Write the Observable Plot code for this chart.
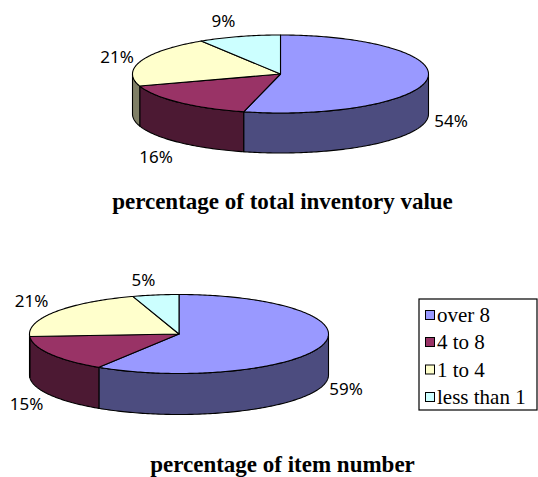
<!DOCTYPE html>
<html>
<head>
<meta charset="utf-8">
<style>html,body{margin:0;padding:0;background:#fff}svg{display:block}</style>
<script src="https://cdn.jsdelivr.net/npm/d3@7"></script>
<script src="https://cdn.jsdelivr.net/npm/@observablehq/plot@0.6"></script>
</head>
<body>
<script>
// Data
const categories = ["over 8", "4 to 8", "1 to 4", "less than 1"];
const inventoryValueShare = [54, 16, 21, 9];
const itemNumberShare = [59, 15, 21, 5];
const inventoryTitle = "percentage of total inventory value";
const itemTitle = "percentage of item number";

// Palette
const topColors = ["#9999ff", "#993366", "#ffffcc", "#ccffff"];
const sideColors = ["#4c4c7f", "#4c1933", "#7f7f66", "#667f7f"];

// Layout
const W = 538, H = 477;
const pies = [
  {id: "a", values: inventoryValueShare, cx: 280, cy: 73.5, rx: 148, ry: 39, depth: 40,
   labels: [[450.5, 121.5], [155.5, 157], [116.5, 57], [223, 21]], title: inventoryTitle, titleX: 282, titleY: 201},
  {id: "b", values: itemNumberShare, cx: 178.5, cy: 333.5, rx: 149.5, ry: 39.5, depth: 41,
   labels: [[345.5, 389.5], [26, 404.5], [31, 301.5], [143, 280]], title: itemTitle, titleX: 282, titleY: 464.5}
];
const legendBox = {x1: 419, x2: 537, y1: 299, y2: 410};
const legendRowY = [315, 342, 369.5, 397];

// Geometry built from the shares
const STEP = Math.PI / 180;
const tops = [], sides = [], labels = [], titles = [];
for (const p of pies) {
  const total = d3.sum(p.values);
  const pt = (t, dy = 0) => ({x: p.cx + p.rx * Math.sin(t), y: p.cy - p.ry * Math.cos(t) + dy});
  let acc = 0;
  p.values.forEach((v, i) => {
    const a0 = acc / total * 2 * Math.PI;
    acc += v;
    const a1 = acc / total * 2 * Math.PI;
    const id = `${p.id}${i}`;
    const key = categories[i];
    // top face
    const ring = [{x: p.cx, y: p.cy}];
    for (let t = a0; t < a1; t += STEP) ring.push(pt(t));
    ring.push(pt(a1), {x: p.cx, y: p.cy});
    ring.forEach(q => tops.push({...q, id, key}));
    // visible wall: front half of the rim only
    const s0 = Math.max(a0, Math.PI / 2), s1 = Math.min(a1, 3 * Math.PI / 2);
    if (s1 > s0) {
      const upper = [], lower = [];
      for (let t = s0; t < s1; t += STEP) { upper.push(pt(t)); lower.push(pt(t, p.depth)); }
      upper.push(pt(s1)); lower.push(pt(s1, p.depth));
      const wall = [...upper, ...lower.reverse(), upper[0]];
      wall.forEach(q => sides.push({...q, id: id + "s", key}));
    }
    labels.push({x: p.labels[i][0], y: p.labels[i][1], text: `${v}%`});
  });
  titles.push({x: p.titleX, y: p.titleY, text: p.title});
}
const legendRows = categories.map((c, i) => ({c, y: legendRowY[i]}));

const sideFill = d => sideColors[categories.indexOf(d.key)];

const chart = Plot.plot({
  width: W, height: H,
  margin: 0,
  style: {background: "#fff", overflow: "visible"},
  x: {domain: [0, W], range: [0, W], axis: null},
  y: {domain: [0, H], range: [0, H], axis: null},
  color: {type: "ordinal", domain: categories, range: topColors},
  marks: [
    Plot.line(sides, {x: "x", y: "y", z: "id", fill: d => sideFill(d), stroke: "#000", strokeWidth: 1.1, curve: "linear"}),
    Plot.line(tops, {x: "x", y: "y", z: "id", fill: "key", stroke: "#000", strokeWidth: 1.1, curve: "linear"}),
    Plot.text(labels, {x: "x", y: "y", text: "text", fontFamily: "Noto Sans", fontSize: 17, fill: "#000", textAnchor: "middle", lineAnchor: "middle"}),
    Plot.text(titles, {x: "x", y: "y", text: "text", fontFamily: "Liberation Serif", fontSize: 23, fontWeight: "bold", fill: "#000", textAnchor: "middle", lineAnchor: "middle"}),
    Plot.rect([legendBox], {x1: "x1", x2: "x2", y1: "y1", y2: "y2", fill: "#fff", stroke: "#000", strokeWidth: 1.2}),
    Plot.rect(legendRows, {x1: () => 425.5, x2: () => 434.5, y1: d => d.y - 4.5, y2: d => d.y + 4.5, fill: "c", stroke: "#000", strokeWidth: 1}),
    Plot.text(legendRows, {x: () => 436.5, y: "y", text: "c", fontFamily: "Liberation Serif", fontSize: 21, fill: "#000", textAnchor: "start", lineAnchor: "middle"})
  ]
});
document.body.appendChild(chart);
</script>
</body>
</html>
